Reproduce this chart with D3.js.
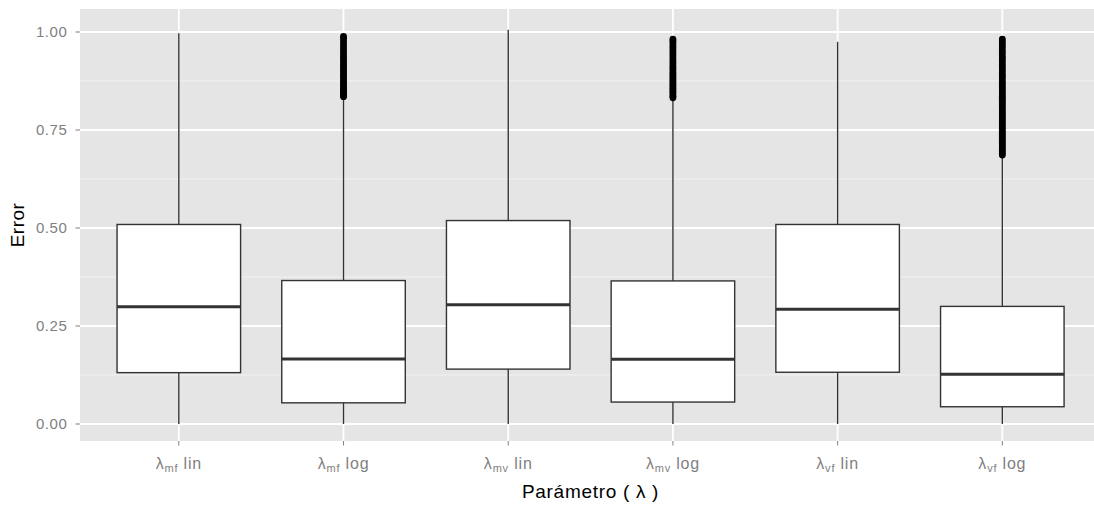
<!DOCTYPE html>
<html>
<head>
<meta charset="utf-8">
<script src="https://cdn.jsdelivr.net/npm/d3@7"></script>
<style>
  html, body { margin: 0; padding: 0; background: #ffffff; }
  svg { display: block; }
  text { font-family: "Liberation Sans", Arial, Helvetica, sans-serif; }
</style>
</head>
<body>
<svg id="chart" width="1094" height="506"></svg>
<script>
// Parameter groups: lambda subscript and scale type
const categories = ["mf lin", "mf log", "mv lin", "mv log", "vf lin", "vf log"];
const subscripts = ["mf", "mf", "mv", "mv", "vf", "vf"];
const scaleNames = ["lin", "log", "lin", "log", "lin", "log"];

// Box statistics per group
const whiskerLow  = [0.000, 0.000, 0.000, 0.000, 0.000, 0.000];
const q1          = [0.131, 0.054, 0.140, 0.056, 0.132, 0.044];
const median      = [0.299, 0.166, 0.304, 0.165, 0.293, 0.127];
const q3          = [0.509, 0.366, 0.519, 0.365, 0.509, 0.300];
const whiskerHigh = [0.997, 0.833, 1.006, 0.829, 0.975, 0.683];

// Outlying errors per group
const outliers = [
  [],
  [0.835, 0.838, 0.842, 0.846, 0.851, 0.855, 0.860, 0.864, 0.869, 0.873, 0.878, 0.884,
   0.889, 0.893, 0.899, 0.904, 0.910, 0.915, 0.921, 0.927, 0.932, 0.938, 0.944, 0.951,
   0.957, 0.963, 0.970, 0.977, 0.984, 0.989],
  [],
  [0.832, 0.836, 0.840, 0.845, 0.849, 0.854, 0.858, 0.863, 0.867, 0.872, 0.877, 0.882,
   0.887, 0.892, 0.897, 0.903, 0.908, 0.913, 0.919, 0.925, 0.931, 0.937, 0.943, 0.949,
   0.955, 0.961, 0.967, 0.973, 0.978, 0.982],
  [],
  [0.686, 0.690, 0.695, 0.700, 0.705, 0.709, 0.714, 0.719, 0.724, 0.729, 0.734, 0.739,
   0.744, 0.749, 0.754, 0.759, 0.764, 0.769, 0.774, 0.779, 0.784, 0.789, 0.794, 0.799,
   0.805, 0.810, 0.815, 0.820, 0.826, 0.831, 0.836, 0.842, 0.847, 0.852, 0.858, 0.863,
   0.869, 0.874, 0.880, 0.886, 0.891, 0.897, 0.903, 0.909, 0.915, 0.921, 0.927, 0.933,
   0.939, 0.945, 0.951, 0.958, 0.964, 0.970, 0.976, 0.982]
];

const yTicks = [0, 0.25, 0.5, 0.75, 1.0];
const yTickLabels = ["0.00", "0.25", "0.50", "0.75", "1.00"];
const yMinor = [0.125, 0.375, 0.625, 0.875];

const xTitle = "Parámetro ( λ )";
const yTitle = "Error";

const svg = d3.select("#chart");

// Panel geometry
const panel = { left: 80, top: 9, bottom: 441 };
const unit = 164.7;                       // width of one discrete slot
panel.right = panel.left + unit * 6.2;    // 0.6 slot padding at each side

const x = d3.scalePoint()
  .domain(categories)
  .range([panel.left + 0.6 * unit, panel.right - 0.6 * unit]);

const y = d3.scaleLinear()
  .domain([0, 1])
  .range([424, 32]);

const boxWidth = 0.75 * unit;

// Background
svg.append("rect")
  .attr("x", panel.left).attr("y", panel.top)
  .attr("width", panel.right - panel.left)
  .attr("height", panel.bottom - panel.top)
  .attr("fill", "#e5e5e5");

// Minor horizontal grid
svg.append("g").selectAll("line").data(yMinor).join("line")
  .attr("x1", panel.left).attr("x2", panel.right)
  .attr("y1", d => y(d)).attr("y2", d => y(d))
  .attr("stroke", "#f2f2f2").attr("stroke-width", 1);

// Major horizontal grid
svg.append("g").selectAll("line").data(yTicks).join("line")
  .attr("x1", panel.left).attr("x2", panel.right)
  .attr("y1", d => y(d)).attr("y2", d => y(d))
  .attr("stroke", "#ffffff").attr("stroke-width", 1.8);

// Vertical grid at categories
svg.append("g").selectAll("line").data(categories).join("line")
  .attr("x1", d => x(d)).attr("x2", d => x(d))
  .attr("y1", panel.top).attr("y2", panel.bottom)
  .attr("stroke", "#ffffff").attr("stroke-width", 1.8);

// Boxplots
const stroke = "#333333";
const groups = svg.append("g").selectAll("g").data(categories).join("g");

groups.append("line")
  .attr("x1", d => x(d)).attr("x2", d => x(d))
  .attr("y1", (d, i) => y(q3[i])).attr("y2", (d, i) => y(whiskerHigh[i]))
  .attr("stroke", stroke).attr("stroke-width", 1.4);

groups.append("line")
  .attr("x1", d => x(d)).attr("x2", d => x(d))
  .attr("y1", (d, i) => y(q1[i])).attr("y2", (d, i) => y(whiskerLow[i]))
  .attr("stroke", stroke).attr("stroke-width", 1.4);

groups.append("rect")
  .attr("x", d => x(d) - boxWidth / 2)
  .attr("width", boxWidth)
  .attr("y", (d, i) => y(q3[i]))
  .attr("height", (d, i) => y(q1[i]) - y(q3[i]))
  .attr("fill", "#ffffff")
  .attr("stroke", stroke).attr("stroke-width", 1.4);

groups.append("line")
  .attr("x1", d => x(d) - boxWidth / 2).attr("x2", d => x(d) + boxWidth / 2)
  .attr("y1", (d, i) => y(median[i])).attr("y2", (d, i) => y(median[i]))
  .attr("stroke", stroke).attr("stroke-width", 3);

groups.each(function (d, i) {
  d3.select(this).selectAll("circle").data(outliers[i]).join("circle")
    .attr("cx", x(d)).attr("cy", v => y(v)).attr("r", 3.4)
    .attr("fill", "#000000");
});

// Y axis ticks and labels
const yAxis = svg.append("g");
yAxis.selectAll("line").data(yTicks).join("line")
  .attr("x1", panel.left - 4.5).attr("x2", panel.left)
  .attr("y1", d => y(d)).attr("y2", d => y(d))
  .attr("stroke", "#7f7f7f").attr("stroke-width", 1);
yAxis.selectAll("text").data(yTicks).join("text")
  .attr("x", panel.left - 12.5).attr("y", d => y(d))
  .attr("dy", "0.36em")
  .attr("text-anchor", "end")
  .attr("font-size", 15)
  .attr("letter-spacing", 0.6)
  .attr("fill", "#7f7f7f")
  .text((d, i) => yTickLabels[i]);

// X axis ticks and labels
const xAxis = svg.append("g");
xAxis.selectAll("line").data(categories).join("line")
  .attr("x1", d => x(d)).attr("x2", d => x(d))
  .attr("y1", panel.bottom).attr("y2", panel.bottom + 4.5)
  .attr("stroke", "#7f7f7f").attr("stroke-width", 1);

const xLabels = xAxis.selectAll("text").data(categories).join("text")
  .attr("x", d => x(d)).attr("y", 469)
  .attr("text-anchor", "middle")
  .attr("font-size", 16)
  .attr("letter-spacing", 0.8)
  .attr("fill", "#7f7f7f");
xLabels.append("tspan").text("λ");
xLabels.append("tspan")
  .attr("font-size", 11).attr("dy", 3)
  .text((d, i) => subscripts[i]);
xLabels.append("tspan")
  .attr("dy", -3)
  .text((d, i) => "\u00a0" + scaleNames[i]);

// Axis titles
svg.append("text")
  .attr("x", (panel.left + panel.right) / 2).attr("y", 498)
  .attr("text-anchor", "middle")
  .attr("font-size", 19)
  .attr("letter-spacing", 0.7)
  .attr("fill", "#000000")
  .text(xTitle);

svg.append("text")
  .attr("transform", `translate(24, ${(panel.top + panel.bottom) / 2}) rotate(-90)`)
  .attr("text-anchor", "middle")
  .attr("font-size", 19)
  .attr("letter-spacing", 0.5)
  .attr("fill", "#000000")
  .text(yTitle);
</script>
</body>
</html>
